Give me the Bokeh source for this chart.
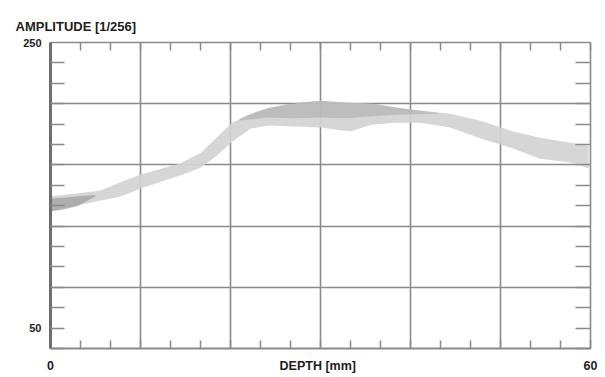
from bokeh.plotting import figure
from bokeh.models import LinearAxis, FixedTicker, Grid, Title
from bokeh.embed import file_html
from bokeh.resources import INLINE
import numpy as np

# ---- data ----
depth = [0, 2.5, 5.6, 7.8, 10, 14.4, 16.7, 18.5, 20.2, 22.2, 24.4, 27.8, 30, 33.3,
         35.6, 38.3, 41.1, 44.4, 47.8, 51.1, 54.4, 57.8, 59.8]
amp_upper = [149.5, 151, 153.3, 158.7, 163.7, 170.9, 178.0, 188.0, 197.6, 203.5, 207.4,
             210.7, 212.0, 210.7, 210.0, 207.4, 205.5, 203.5, 198.9, 192.4, 187.8, 184.5, 182.5]
amp_lower = [139.5, 143, 146.7, 149.4, 154.6, 163.0, 168.3, 176.2, 185.2, 193.7, 195.7,
             195.0, 194.4, 191.8, 196.3, 197.6, 197.6, 194.4, 187.2, 181.3, 174.1, 171.5, 167.6]

# darker shading near the top of the band (centre) and at the left end
core_depth = [21, 24, 27, 30, 33, 36, 39, 43]
core_upper = [200, 207, 210.4, 212, 210.7, 210, 207, 204]
core_lower = [199, 201, 200.5, 201, 200.5, 202, 203, 203.5]

left_depth = [0, 1.5, 3, 5]
left_upper = [148, 148.5, 149.5, 150.3]
left_lower = [139.5, 140.8, 143, 149.5]

x_grid = [10, 20, 30, 40, 50]
y_grid = [90, 130, 170, 210]
x_ticks = list(np.arange(0, 60.01, 10 / 3))
y_ticks = list(np.arange(50, 250.01, 40 / 3))

# tick labels as they sit in the picture ("50" is printed beside the lowest minor tick)
y_label_ticks = [250, 63.33]
y_label_text = ["250", "50"]
x_label_ticks = [0, 29.7, 60]
x_label_text = ["0", "DEPTH [mm]", "60"]

y_title = "AMPLITUDE [1/256]"

GRID = "#8a8a8a"
TXT = "#1e1e1e"
FONT = "Liberation Sans"

p = figure(width=605, height=377, x_range=(0, 60), y_range=(50, 250),
           output_backend="svg", toolbar_location=None,
           x_axis_location=None, y_axis_location=None,
           min_border_left=50, min_border_right=15, min_border_top=42, min_border_bottom=29)
p.outline_line_color = None
p.background_fill_color = "white"
p.border_fill_color = "white"
p.center = [r for r in p.center if not isinstance(r, Grid)]

for dim, ticks in ((0, x_grid), (1, y_grid)):
    p.add_layout(Grid(dimension=dim, ticker=FixedTicker(ticks=ticks),
                      grid_line_color=GRID, grid_line_width=1.6))


def tick_axis(ticks, tick_in, color, width):
    # only minor ticks (pointing inward), no major ticks and hence no tick labels
    return LinearAxis(ticker=FixedTicker(ticks=[], minor_ticks=ticks),
                      minor_tick_in=tick_in, minor_tick_out=0,
                      minor_tick_line_color=GRID, minor_tick_line_width=1.5,
                      major_tick_line_color=None, major_tick_in=0, major_tick_out=0,
                      major_label_standoff=0,
                      axis_line_color=color, axis_line_width=width)


def label_axis(ticks, texts, standoff, size):
    return LinearAxis(ticker=FixedTicker(ticks=ticks),
                      major_label_overrides={t: s for t, s in zip(ticks, texts)},
                      major_tick_line_color=None, minor_tick_line_color=None,
                      axis_line_color=None, major_tick_in=0, major_tick_out=0,
                      major_label_standoff=standoff, major_label_text_font=FONT,
                      major_label_text_font_style="bold", major_label_text_color=TXT,
                      major_label_text_font_size=size)


p.add_layout(tick_axis(x_ticks, 8, GRID, 1.8), "below")
p.add_layout(tick_axis(x_ticks, 8, GRID, 1.5), "above")
p.add_layout(tick_axis(y_ticks, 14, "#6e6e6e", 3), "left")
p.add_layout(tick_axis(y_ticks, 15, GRID, 1.6), "right")
p.add_layout(label_axis(y_label_ticks, y_label_text, 9, "11px"), "left")
p.add_layout(label_axis(x_label_ticks, x_label_text, 10, "12.5px"), "below")

p.add_layout(Title(text=y_title, align="left", offset=-35, standoff=18, text_font=FONT,
                   text_font_style="bold", text_color=TXT, text_font_size="13px"), "above")

p.varea(x=depth, y1=amp_lower, y2=amp_upper, fill_color="#d2d2d2", fill_alpha=0.92)
p.varea(x=core_depth, y1=core_lower, y2=core_upper, fill_color="#a4a4a4", fill_alpha=0.5)
p.varea(x=left_depth, y1=left_lower, y2=left_upper, fill_color="#8e8e8e", fill_alpha=0.55)

open("out.html", "w").write(file_html(p, INLINE))
